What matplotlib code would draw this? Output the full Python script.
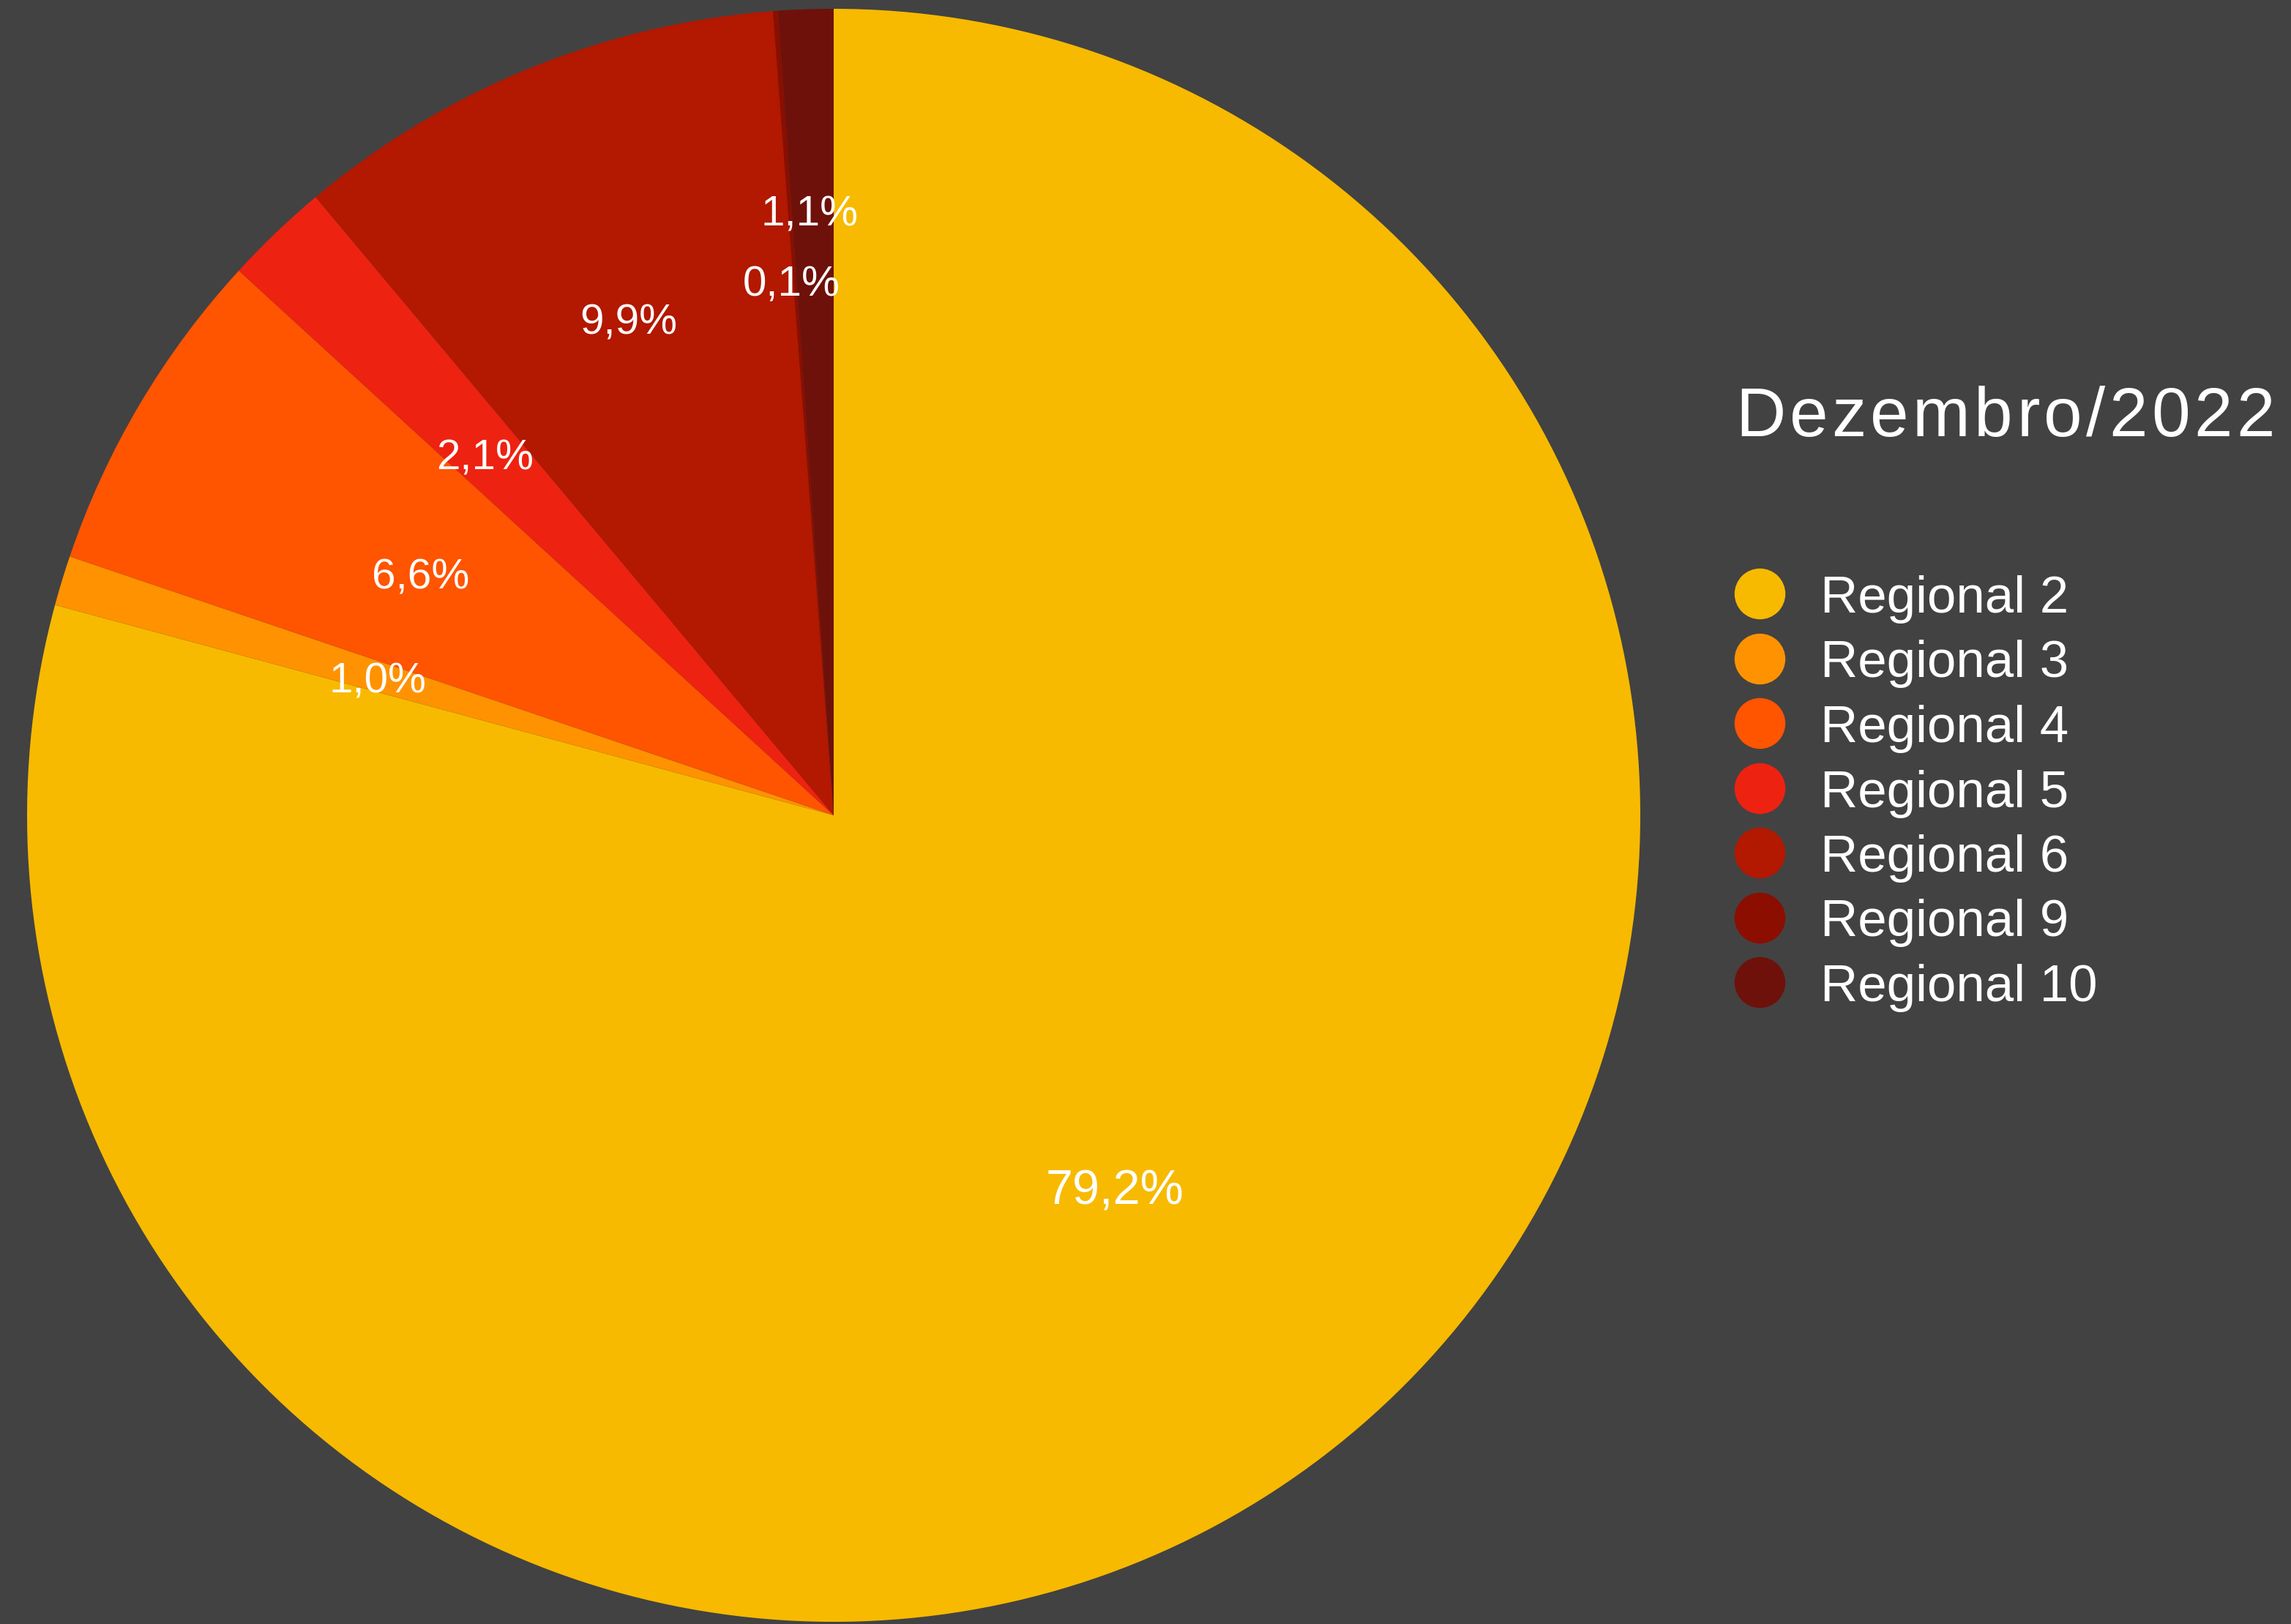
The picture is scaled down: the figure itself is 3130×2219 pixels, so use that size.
import matplotlib
matplotlib.use("Agg")
import numpy as np
import matplotlib.pyplot as plt

# Dados
regionais = ["Regional 2", "Regional 3", "Regional 4", "Regional 5",
             "Regional 6", "Regional 9", "Regional 10"]
percentuais = [79.2, 1.0, 6.6, 2.1, 9.9, 0.1, 1.1]
titulo = "Dezembro/2022"

cores = ["#F7BA00", "#FF9200", "#FF5400", "#EE2211",
         "#B31800", "#8B0E00", "#6E110A"]
# distancia de cada rotulo ao centro (fracao do raio)
dist_rotulos = [0.58, 0.587, 0.59, 0.62, 0.665, 0.665, 0.75]
fundo = "#424242"
fonte = "Liberation Sans"

W, H = 3130, 2219
fig = plt.figure(figsize=(W / 100, H / 100), dpi=100, facecolor=fundo)

# Pizza
cx, cy, r = 1139, 1114, 1102
ax = fig.add_axes([(cx - r) / W, (H - cy - r) / H, 2 * r / W, 2 * r / H])
ax.set_facecolor(fundo)

wedges, textos, autotextos = ax.pie(
    percentuais, colors=cores, startangle=90, counterclock=False,
    autopct=lambda p: f"{p:.1f}%".replace(".", ","),
    wedgeprops=dict(linewidth=0),
    textprops=dict(color="white", family=fonte, fontsize=42),
)
ax.set_xlim(-1, 1)
ax.set_ylim(-1, 1)
ax.set_aspect("equal")
autotextos[0].set_fontsize(48)

for w, t, d in zip(wedges, autotextos, dist_rotulos):
    ang = np.deg2rad((w.theta1 + w.theta2) / 2)
    meia_altura = 0.72 * t.get_fontsize() * (100 / 72) / 2 / r
    t.set_position((d * np.cos(ang) - 0.004, d * np.sin(ang) - meia_altura))
    t.set_ha("center")
    t.set_va("baseline")

# Legenda desenhada a mao
leg = fig.add_axes([0, 0, 1, 1])
leg.set_xlim(0, W)
leg.set_ylim(H, 0)
leg.axis("off")
leg.patch.set_alpha(0)

y0, passo = 811, 88.5
for i, (nome, cor) in enumerate(zip(regionais, cores)):
    y = y0 + i * passo
    leg.scatter([2404], [y], s=2500, color=cor, linewidths=0)
    leg.text(2487, y + 26, nome, color="white", fontsize=51,
             family=fonte, va="baseline", ha="left")

# Titulo com espacamento entre letras
fig.canvas.draw()
renderer = fig.canvas.get_renderer()

def largura(s):
    t = leg.text(0, 0, s, fontsize=68, family=fonte)
    w = t.get_window_extent(renderer).width
    t.remove()
    return w

x0, largura_total = 2371, 737
prefixos = [largura(titulo[:k + 1]) for k in range(len(titulo))]
espaco = (largura_total - prefixos[-1]) / (len(titulo) - 1)
for k, ch in enumerate(titulo):
    leg.text(x0 + prefixos[k] + k * espaco, 596, ch, color="white",
             fontsize=68, family=fonte, va="baseline", ha="right")

fig.savefig("out.png", dpi=100, facecolor=fundo)
